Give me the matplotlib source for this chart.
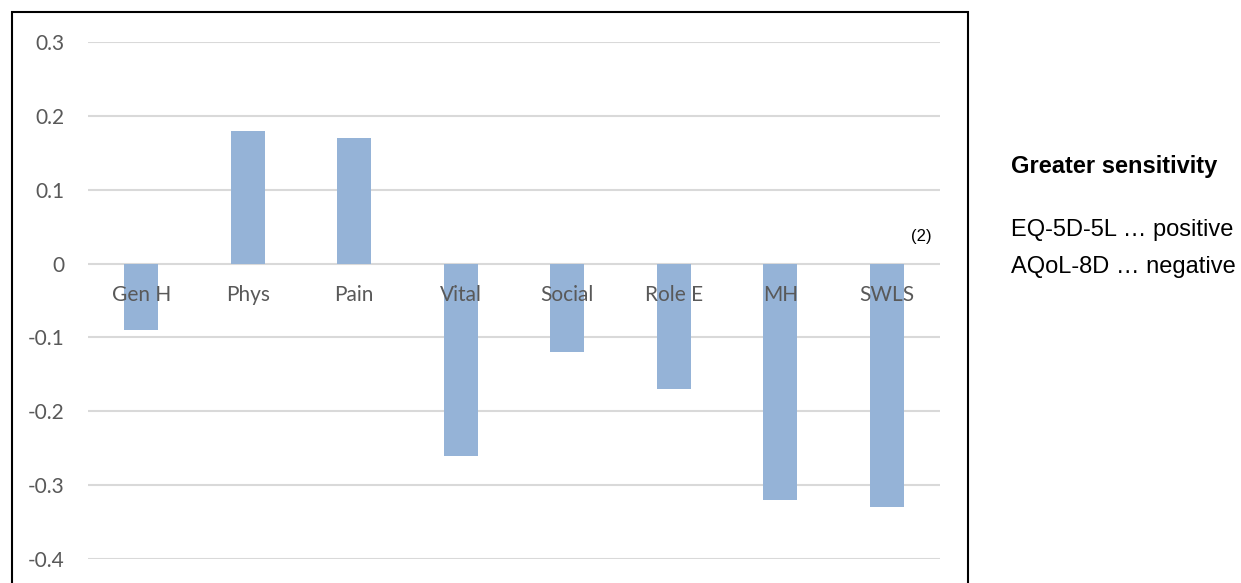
import matplotlib.pyplot as plt
from matplotlib.patches import Rectangle
import numpy as np

categories = ['Gen H', 'Phys', 'Pain', 'Vital', 'Social', 'Role E', 'MH', 'SWLS']
values = [-0.09, 0.18, 0.17, -0.26, -0.12, -0.17, -0.32, -0.33]
yticks = [0.3, 0.2, 0.1, 0, -0.1, -0.2, -0.3, -0.4]
ytick_labels = ['0.3', '0.2', '0.1', '0', '-0.1', '-0.2', '-0.3', '-0.4']
side_title = 'Greater sensitivity'
side_lines = ['EQ-5D-5L \u2026 positive', 'AQoL-8D \u2026 negative']
note = '(2)'

W, H = 1241, 583
fig = plt.figure(figsize=(W / 100, H / 100), dpi=100)
ax = fig.add_axes([88 / W, 1 - 559 / H, (940 - 88) / W, (559 - 42) / H])

x = np.arange(len(categories))
ax.bar(x, values, width=0.32, color='#95b3d7', zorder=2)
ax.set_xlim(-0.5, len(categories) - 0.5)
ax.set_ylim(-0.4, 0.3)

for t in yticks:
    ax.axhline(t, color='#d9d9d9', lw=1.5, zorder=1)

ax.set_yticks(yticks)
ax.set_yticklabels(ytick_labels, family='Lato', fontsize=15, color='#595959')
ax.tick_params(axis='y', length=0, pad=17)
ax.set_xticks([])
for s in ax.spines.values():
    s.set_visible(False)

for i, c in enumerate(categories):
    ax.text(i, -0.042, c, ha='center', va='center', family='Lato',
            fontsize=15, color='#595959', zorder=3)

ax.text(7.32, 0.036, note, ha='center', va='center', family='Liberation Sans',
        fontsize=12, color='black')

# outer frame
fig.patches.append(Rectangle((12 / W, -0.05), (968 - 12) / W, 1.05 - 12 / H,
                             transform=fig.transFigure, fill=False,
                             edgecolor='black', lw=1.5))

fig.text(1011 / W, 1 - 167 / H, side_title, family='Liberation Sans',
         fontweight='bold', fontsize=17, va='center', ha='left')
fig.text(1011 / W, 1 - 230 / H, side_lines[0], family='Liberation Sans',
         fontsize=17, va='center', ha='left')
fig.text(1011 / W, 1 - 267 / H, side_lines[1], family='Liberation Sans',
         fontsize=17, va='center', ha='left')

fig.savefig('out.png', dpi=100)
